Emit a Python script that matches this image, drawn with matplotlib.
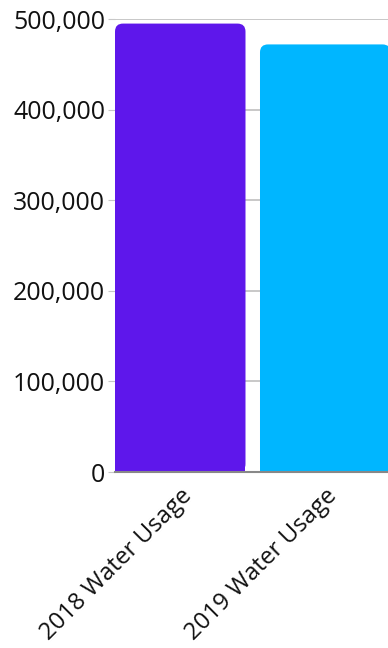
import matplotlib.pyplot as plt
from matplotlib.patches import FancyBboxPatch, Rectangle
from matplotlib.ticker import FuncFormatter

categories = ['2018 Water Usage', '2019 Water Usage']
usage = [495000, 472000]
bar_colors = ['#5e17eb', '#00b6ff']
y_ticks = [0, 100000, 200000, 300000, 400000, 500000]

plt.rcParams['font.family'] = ['Open Sans', 'DejaVu Sans']

fig = plt.figure(figsize=(3.88, 6.48), dpi=100)
ax = fig.add_axes([0.2964, 0.2716, 0.710, 0.699])

width = 0.9
ax.set_xlim(-0.45, 1.45)
ax.set_ylim(0, 500000)

# bars with rounded top corners: rounded box plus a plain block over the lower half
px_x = 0.71 * 388 / 1.9
px_y = 0.699 * 648 / 500000
aspect = px_x / px_y
for i, (val, col) in enumerate(zip(usage, bar_colors)):
    left = i - width / 2
    ax.add_patch(FancyBboxPatch((left, 0), width, val,
                                boxstyle='round,pad=0,rounding_size=0.055',
                                mutation_aspect=aspect, fc=col, ec='none', zorder=2))
    ax.add_patch(Rectangle((left, 0), width, val / 2, fc=col, ec='none', zorder=2))

ax.set_yticks(y_ticks)
ax.yaxis.set_major_formatter(FuncFormatter(lambda v, p: f'{int(v):,}'))
ax.grid(axis='y', color='#c8c8c8', lw=1.4, zorder=0)
ax.tick_params(axis='y', length=5, color='#c8c8c8', labelsize=18, labelcolor='#111111', pad=2)

ax.set_xticks(range(len(categories)))
ax.set_xticklabels(categories, rotation=45, ha='right', rotation_mode='anchor',
                   fontsize=17.3, color='#111111')
ax.tick_params(axis='x', length=0, pad=9)

for s in ['top', 'right', 'left']:
    ax.spines[s].set_visible(False)
ax.spines['bottom'].set_color('#888888')
ax.spines['bottom'].set_linewidth(1.5)
ax.spines['bottom'].set_zorder(3)

fig.savefig('out.png', dpi=100)
